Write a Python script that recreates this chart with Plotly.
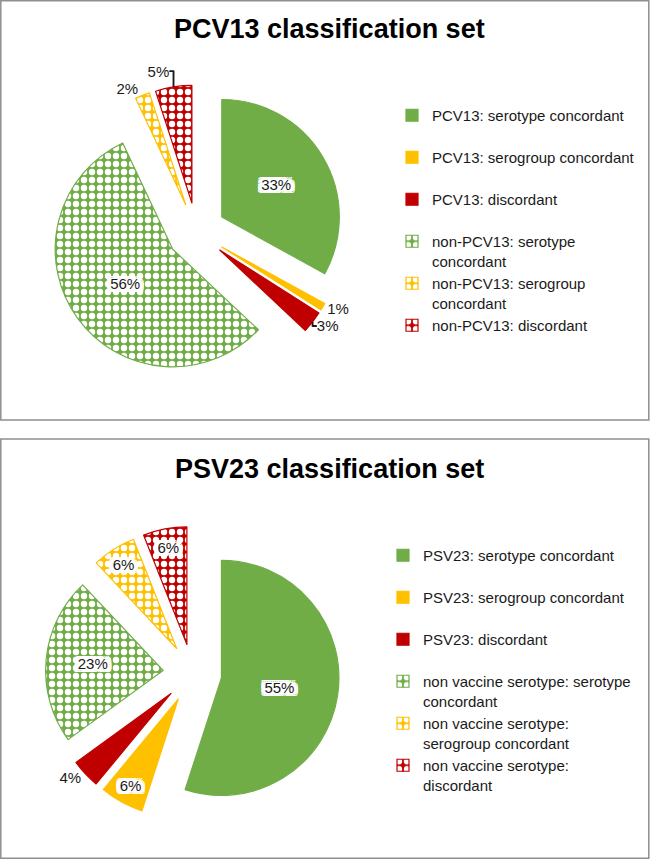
import plotly.graph_objects as go

# ---------------- data ----------------
pcv_labels = [
    "PCV13: serotype concordant",
    "PCV13: serogroup concordant",
    "PCV13: discordant",
    "non-PCV13: serotype<br>concordant",
    "non-PCV13: serogroup<br>concordant",
    "non-PCV13: discordant",
]
pcv_values = [33, 1, 3, 56, 2, 5]

psv_labels = [
    "PSV23: serotype concordant",
    "PSV23: serogroup concordant",
    "PSV23: discordant",
    "non vaccine serotype: serotype<br>concordant",
    "non vaccine serotype:<br>serogroup concordant",
    "non vaccine serotype:<br>discordant",
]
psv_values = [55, 6, 4, 23, 6, 6]

pcv_textpos = ["inside", "outside", "outside", "inside", "outside", "outside"]
psv_textpos = ["inside", "inside", "outside", "inside", "inside", "inside"]

titles = ["PCV13 classification set", "PSV23 classification set"]

# ---------------- style ----------------
W, H = 650, 859
GREEN, YELLOW, RED = "#70AD47", "#FFC000", "#C00000"
colors = [GREEN, YELLOW, RED, GREEN, YELLOW, RED]
shapes_pat = ["", "", "", ".", ".", "."]
FONT = "Liberation Sans, Arial, Helvetica, sans-serif"
TXT = "#1a1a1a"
HALO = ",".join(["%dpx %dpx 0 #fff" % (dx, dy)
                 for dx in (-4, -2, 0, 2, 4) for dy in (-3, -1, 0, 1, 3)])


def pad(lbls):
    # every legend entry takes two lines, like the reference
    return [l if "<br>" in l else l + "<br> " for l in lbls]


def px_x(v):
    return v / W


def px_y(v):
    return 1 - v / H


def pie(labels, values, textpos, dom_x, dom_y, legend):
    return go.Pie(
        labels=pad(labels),
        values=values,
        sort=False,
        direction="clockwise",
        rotation=0,
        pull=[0.25] * len(values),
        textinfo="percent",
        textposition=textpos,
        insidetextorientation="horizontal",
        insidetextfont=dict(family=FONT, size=15, color=TXT, shadow=HALO),
        outsidetextfont=dict(family=FONT, size=15, color=TXT),
        marker=dict(
            colors=colors,
            line=dict(color=colors, width=1.2),
            pattern=dict(
                shape=shapes_pat,
                fgcolor="white",
                bgcolor=colors,
                size=8,
                solidity=0.5,
            ),
        ),
        domain=dict(x=dom_x, y=dom_y),
        legend=legend,
        hoverinfo="label+percent",
    )


fig = go.Figure()
fig.add_trace(pie(pcv_labels, pcv_values, pcv_textpos,
                  [px_x(49.6), px_x(343.4)], [px_y(378.9), px_y(85.1)], "legend"))
fig.add_trace(pie(psv_labels, psv_values, psv_textpos,
                  [px_x(45.5), px_x(339.3)], [px_y(820.2), px_y(526.4)], "legend2"))

leg_common = dict(
    font=dict(family=FONT, size=15, color=TXT),
    bgcolor="rgba(0,0,0,0)",
    valign="top",
    xanchor="left",
    yanchor="top",
    itemclick=False,
    itemdoubleclick=False,
)

fig.update_layout(
    width=W,
    height=H,
    margin=dict(l=0, r=0, t=0, b=0, autoexpand=False),
    paper_bgcolor="white",
    plot_bgcolor="white",
    legend=dict(x=px_x(392), y=px_y(99), **leg_common),
    legend2=dict(x=px_x(383), y=px_y(539), **leg_common),
    shapes=[
        dict(type="rect", xref="paper", yref="paper",
             x0=px_x(0.8), x1=px_x(648.8), y0=px_y(420), y1=px_y(0.8),
             line=dict(color="#8F8F8F", width=1.5), layer="below"),
        dict(type="rect", xref="paper", yref="paper",
             x0=px_x(0.8), x1=px_x(648.8), y0=px_y(858.2), y1=px_y(439),
             line=dict(color="#8F8F8F", width=1.5), layer="below"),
    ],
    annotations=[
        dict(text="<b>%s</b>" % titles[0], xref="paper", yref="paper",
             x=px_x(329), y=px_y(29), xanchor="center", yanchor="middle",
             showarrow=False, font=dict(family=FONT, size=27, color="black")),
        dict(text="<b>%s</b>" % titles[1], xref="paper", yref="paper",
             x=px_x(329), y=px_y(469), xanchor="center", yanchor="middle",
             showarrow=False, font=dict(family=FONT, size=27, color="black")),
    ],
)

fig.write_html(
    "out.html",
    config={"displayModeBar": False},
    post_script="document.body.style.margin='0px';document.body.style.overflow='hidden';",
)
